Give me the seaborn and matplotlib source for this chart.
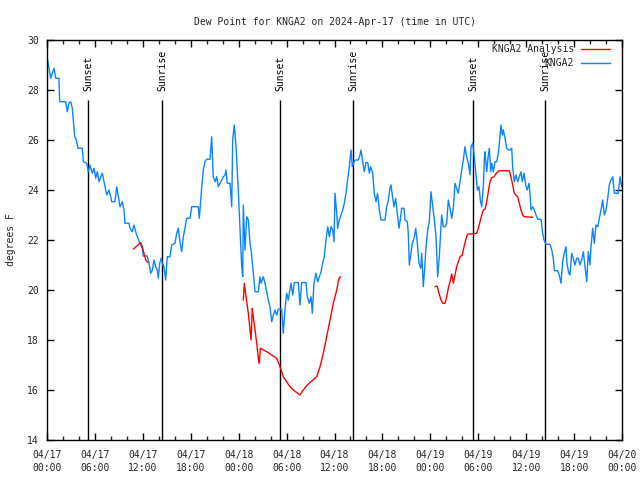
import numpy as np
import pandas as pd
import matplotlib
matplotlib.use("Agg")
import matplotlib.pyplot as plt
import matplotlib.dates as mdates
from matplotlib.lines import Line2D
import seaborn as sns

# ---- data (hours since 2024-04-17 00:00 UTC, dew point in F) ----
obs_hours = [0.04, 0.25, 0.46, 0.66, 0.88, 1.09, 1.50, 1.59, 2.34, 2.54, 2.75, 2.97, 3.17, 3.29, 3.47, 3.67,
             3.88, 4.42, 4.55, 4.97, 5.17, 5.38, 5.67, 5.89, 6.10, 6.30, 6.51, 6.92, 7.14, 7.48, 7.76, 7.98,
             8.10, 8.51, 8.73, 8.93, 9.14, 9.43, 9.64, 9.77, 10.27, 10.39, 10.68, 10.89, 11.11, 11.31, 11.73,
             11.93, 12.06, 12.56, 12.77, 12.99, 13.19, 13.40, 13.61, 13.81, 13.94, 14.11, 14.31, 14.44, 14.65,
             14.86, 15.06, 15.40, 15.61, 16.03, 16.24, 16.44, 16.65, 16.87, 17.07, 17.28, 17.49, 17.91, 18.12,
             18.95, 19.07, 19.25, 19.37, 19.57, 19.78, 20.00, 20.41, 20.62, 20.82, 21.04, 21.25, 21.45, 21.66,
             21.88, 22.08, 22.29, 22.41, 22.58, 22.92, 23.13, 23.25, 23.45, 23.67, 23.95, 24.17, 24.38, 24.51,
             24.58, 24.79, 25.01, 25.21, 25.42, 25.55, 25.76, 26.05, 26.46, 26.67, 26.80, 27.09, 27.30, 27.51,
             27.71, 27.92, 28.14, 28.34, 28.55, 28.76, 28.96, 29.39, 29.59, 29.80, 30.01, 30.21, 30.34, 30.55,
             30.77, 30.97, 31.47, 31.68, 31.89, 32.43, 32.59, 32.85, 33.06, 33.22, 33.43, 33.68, 33.90, 34.10,
             34.31, 34.52, 34.72, 34.94, 35.15, 35.35, 35.56, 35.78, 35.94, 36.06, 36.28, 36.40, 36.60, 36.81,
             37.03, 37.23, 37.44, 37.65, 37.85, 38.07, 38.23, 38.36, 38.57, 38.98, 39.19, 39.32, 39.53, 39.73,
             39.94, 40.16, 40.36, 40.53, 40.78, 40.98, 41.20, 41.39, 41.61, 41.82, 42.32, 42.54, 42.74, 42.95,
             43.08, 43.24, 43.45, 43.66, 43.86, 44.08, 44.29, 44.41, 44.70, 44.83, 45.12, 45.24, 45.37, 45.58,
             45.74, 45.96, 46.17, 46.37, 46.58, 46.80, 46.92, 47.12, 47.33, 47.46, 47.67, 47.87, 48.08, 48.30,
             48.50, 48.71, 48.92, 49.12, 49.25, 49.42, 49.62, 49.84, 50.05, 50.25, 50.46, 50.68, 50.88, 51.09,
             51.30, 51.50, 51.72, 51.93, 52.13, 52.34, 52.55, 52.76, 52.97, 53.09, 53.30, 53.51, 53.72, 53.89,
             54.10, 54.26, 54.44, 54.64, 54.77, 54.85, 55.06, 55.26, 55.39, 55.56, 55.69, 55.89, 56.10, 56.31,
             56.51, 56.64, 56.85, 57.01, 57.14, 57.35, 57.56, 57.76, 57.98, 58.19, 58.31, 58.51, 58.73, 58.94,
             59.14, 59.35, 59.52, 59.73, 59.94, 60.14, 60.36, 60.48, 60.61, 60.82, 61.02, 61.23, 61.45, 61.86,
             62.07, 62.24, 62.49, 62.99, 63.20, 63.40, 63.53, 63.95, 64.15, 64.36, 64.57, 64.77, 64.98, 65.11,
             65.33, 65.49, 65.70, 65.90, 66.11, 66.33, 66.53, 66.74, 66.95, 67.16, 67.37, 67.58, 67.78, 67.99,
             68.12, 68.33, 68.53, 68.75, 68.96, 69.16, 69.37, 69.58, 69.79, 70.00, 70.21, 70.41, 70.62, 70.84,
             71.04, 71.54, 71.75, 71.96]
obs_dewpt = [29.27, 28.87, 28.47, 28.67, 28.87, 28.47, 28.47, 27.53, 27.53, 27.13, 27.47, 27.53, 27.27, 26.8,
             26.13, 26.0, 25.67, 25.67, 25.13, 25.07, 24.73, 25.0, 24.67, 24.87, 24.47, 24.73, 24.33, 24.67,
             24.33, 23.8, 24.0, 23.73, 23.53, 23.53, 24.13, 23.73, 23.33, 23.53, 23.2, 22.67, 22.67, 22.47,
             22.33, 22.6, 22.33, 22.13, 21.8, 21.67, 21.36, 21.36, 21.07, 20.67, 20.8, 21.2, 20.93, 20.8, 20.47,
             21.07, 21.27, 21.07, 20.93, 20.4, 21.33, 21.33, 21.8, 21.87, 22.27, 22.47, 21.93, 21.53, 22.13,
             22.47, 22.87, 22.87, 23.33, 23.33, 22.87, 23.6, 24.07, 24.8, 25.13, 25.23, 25.23, 26.13, 24.53,
             24.33, 24.53, 24.13, 24.27, 24.4, 24.53, 24.6, 24.8, 24.27, 24.27, 23.33, 26.0, 26.6, 25.73, 24.0,
             22.4, 20.93, 20.53, 23.4, 21.6, 22.93, 22.8, 21.87, 21.6, 20.93, 19.93, 19.93, 20.53, 20.27, 20.53,
             20.27, 19.93, 19.6, 19.33, 18.73, 19.0, 19.2, 19.0, 19.23, 19.23, 18.27, 19.23, 19.87, 19.6, 19.87,
             20.27, 19.8, 20.3, 20.3, 19.4, 20.3, 20.3, 19.73, 19.47, 19.73, 19.07, 20.27, 20.67, 20.33, 20.53,
             20.73, 21.07, 21.33, 22.0, 22.53, 22.13, 22.53, 22.4, 21.93, 23.87, 23.07, 22.47, 22.8, 23.0, 23.2,
             23.47, 23.87, 24.4, 24.93, 25.6, 24.93, 25.07, 25.2, 25.2, 25.4, 25.6, 25.13, 24.73, 25.1, 25.1,
             24.67, 24.93, 24.67, 23.87, 23.53, 23.87, 23.2, 22.8, 22.8, 23.33, 23.6, 24.07, 24.2, 23.8, 23.33,
             23.67, 23.07, 22.47, 22.93, 23.27, 23.27, 22.8, 22.73, 22.27, 21.0, 21.47, 21.87, 22.07, 22.47,
             21.87, 21.07, 20.87, 21.47, 20.13, 21.07, 21.73, 22.4, 22.73, 23.93, 23.33, 22.8, 22.13, 20.53,
             21.33, 22.07, 23.0, 22.53, 22.53, 22.67, 23.6, 23.27, 22.87, 23.27, 24.27, 24.07, 23.87, 24.33,
             24.8, 25.2, 25.73, 25.33, 25.07, 24.6, 25.73, 25.87, 25.33, 24.6, 24.0, 24.13, 23.6, 23.33, 24.2,
             25.27, 25.53, 24.73, 25.4, 25.67, 24.73, 25.07, 24.73, 25.13, 25.13, 25.47, 25.87, 26.6, 26.2,
             26.4, 26.07, 25.67, 25.6, 25.6, 25.67, 24.93, 24.33, 24.6, 24.33, 24.53, 24.73, 24.33, 24.67, 24.2,
             24.0, 24.27, 23.87, 23.2, 23.33, 23.2, 23.0, 22.83, 22.83, 22.27, 22.0, 21.83, 21.83, 21.6, 21.27,
             20.77, 20.77, 20.6, 20.27, 21.13, 21.47, 21.73, 21.07, 20.67, 20.6, 21.47, 21.27, 21.0, 21.27, 21.27,
             21.0, 21.2, 21.53, 20.93, 20.33, 21.53, 21.0, 21.73, 22.47, 21.87, 22.6, 22.53, 22.87, 23.2, 23.6,
             23.0, 23.2, 23.67, 24.2, 24.4, 24.53, 23.87, 23.87, 24.53, 24.13]

ana_hours_1 = [10.81, 11.73, 11.93, 12.36, 12.65]
ana_dewpt_1 = [21.63, 21.9, 21.73, 21.2, 21.1]
ana_hours_2 = [24.58, 24.71, 24.92, 25.21, 25.42, 25.55, 25.71, 25.83, 26.05, 26.26, 26.46, 26.59, 26.71,
               27.51, 28.14, 28.76, 29.18, 29.59, 30.01, 30.43, 30.84, 31.68, 32.09, 32.59, 33.77, 34.19,
               34.60, 35.02, 35.44, 35.85, 36.28, 36.56, 36.78]
ana_dewpt_2 = [19.6, 20.27, 19.73, 19.07, 18.4, 18.0, 19.27, 18.93, 18.4, 17.87, 17.27, 17.07, 17.67,
               17.53, 17.4, 17.27, 16.93, 16.53, 16.33, 16.13, 16.0, 15.8, 16.0, 16.2, 16.53, 16.93,
               17.47, 18.13, 18.8, 19.47, 20.0, 20.47, 20.53]
ana_hours_3 = [48.58, 48.84, 49.09, 49.34, 49.55, 49.84, 50.05, 50.25, 50.46, 50.68, 50.88, 51.09, 51.30,
               51.50, 51.72, 52.00, 52.22, 52.43, 52.63, 53.81, 54.01, 54.22, 54.44, 54.64, 54.85, 55.06,
               55.26, 55.47, 55.69, 55.97, 56.31, 56.64, 57.89, 58.10, 58.31, 58.51, 58.73, 58.94, 59.14,
               59.35, 59.56, 59.77, 60.82]
ana_dewpt_3 = [20.13, 20.16, 19.87, 19.6, 19.47, 19.47, 19.73, 20.07, 20.33, 20.64, 20.27, 20.6, 20.93,
               21.13, 21.33, 21.4, 21.73, 22.0, 22.23, 22.27, 22.47, 22.73, 23.0, 23.2, 23.23, 23.53,
               23.93, 24.33, 24.49, 24.53, 24.69, 24.77, 24.77, 24.53, 24.2, 23.87, 23.8, 23.73, 23.47,
               23.2, 23.0, 22.93, 22.91]

sun_hours = [5.13, 14.40, 29.18, 38.31, 53.34, 62.36]
sun_labels = ["Sunset", "Sunrise", "Sunset", "Sunrise", "Sunset", "Sunrise"]

title = "Dew Point for KNGA2 on 2024-Apr-17 (time in UTC)"
ylabel = "degrees F"
series_names = ["KNGA2 Analysis", "KNGA2"]

# ---- build frames ----
base = pd.Timestamp("2024-04-17 00:00")
n = min(len(obs_hours), len(obs_dewpt))
obs = pd.DataFrame({"time": base + pd.to_timedelta(obs_hours[:n], unit="h"), "val": obs_dewpt[:n]})
parts = []
for k, (hh, vv) in enumerate([(ana_hours_1, ana_dewpt_1), (ana_hours_2, ana_dewpt_2),
                              (ana_hours_3, ana_dewpt_3)]):
    m = min(len(hh), len(vv))
    parts.append(pd.DataFrame({"time": base + pd.to_timedelta(hh[:m], unit="h"),
                               "val": vv[:m], "seg": k}))
ana = pd.concat(parts, ignore_index=True)
sun_times = base + pd.to_timedelta(sun_hours, unit="h")

sns.set_style("ticks")
plt.rcParams["font.family"] = ["DejaVu Sans Mono"]
plt.rcParams["font.size"] = 7

BLUE = "#0a84ff"
RED = "#ff0000"

fig = plt.figure(figsize=(6.4, 4.8), dpi=100)
ax = fig.add_axes([47 / 640, 40 / 480, 575 / 640, 400 / 480])

sns.lineplot(data=obs, x="time", y="val", color=BLUE, lw=1, estimator=None, sort=False, ax=ax)
sns.lineplot(data=ana, x="time", y="val", units="seg", color=RED, lw=1, estimator=None, sort=False, ax=ax)

ax.set_xlim(base, base + pd.Timedelta(hours=72))
ax.set_ylim(14, 30)
ax.set_yticks(np.arange(14, 31, 2))

# sunrise / sunset markers
top_line = 27.6
for t, lab in zip(sun_times, sun_labels):
    ax.vlines(t, 14, top_line, color="black", lw=1, zorder=1)
    ax.text(t + pd.Timedelta(minutes=5), 27.95, lab, rotation=90, ha="center", va="bottom",
            fontsize=7, color="black")

ax.xaxis.set_major_locator(mdates.HourLocator(byhour=[0, 6, 12, 18]))
ax.xaxis.set_minor_locator(mdates.HourLocator(interval=2))
ax.xaxis.set_major_formatter(mdates.DateFormatter("%m/%d\n%H:%M"))

ax.tick_params(axis="both", which="major", direction="in", length=5, width=1,
               top=True, right=True, labelsize=7, color="black")
ax.tick_params(axis="x", which="minor", direction="in", length=3, width=1, top=True, bottom=True)
ax.tick_params(axis="x", which="major", pad=7)
ax.tick_params(axis="y", which="major", pad=6)
for s in ax.spines.values():
    s.set_linewidth(1)
    s.set_color("black")
    s.set_visible(True)

ax.set_xlabel("")
ax.set_ylabel(ylabel, fontsize=7)
ax.yaxis.set_label_coords(-0.054, 0.5)
ax.set_title(title, fontsize=7, pad=11)

handles = [Line2D([], [], color=RED, lw=1), Line2D([], [], color=BLUE, lw=1)]
ax.legend(handles, series_names, loc="upper right", markerfirst=False, frameon=False,
          fontsize=7, handlelength=3.0, handletextpad=0.7, labelspacing=0.45,
          borderpad=0.3, borderaxespad=0, bbox_to_anchor=(1 - 9 / 575, 1 - 1 / 400))

fig.canvas.draw()
for lbl in ax.get_xticklabels():
    lbl.set_linespacing(1.35)

fig.savefig("out.png", dpi=100)
